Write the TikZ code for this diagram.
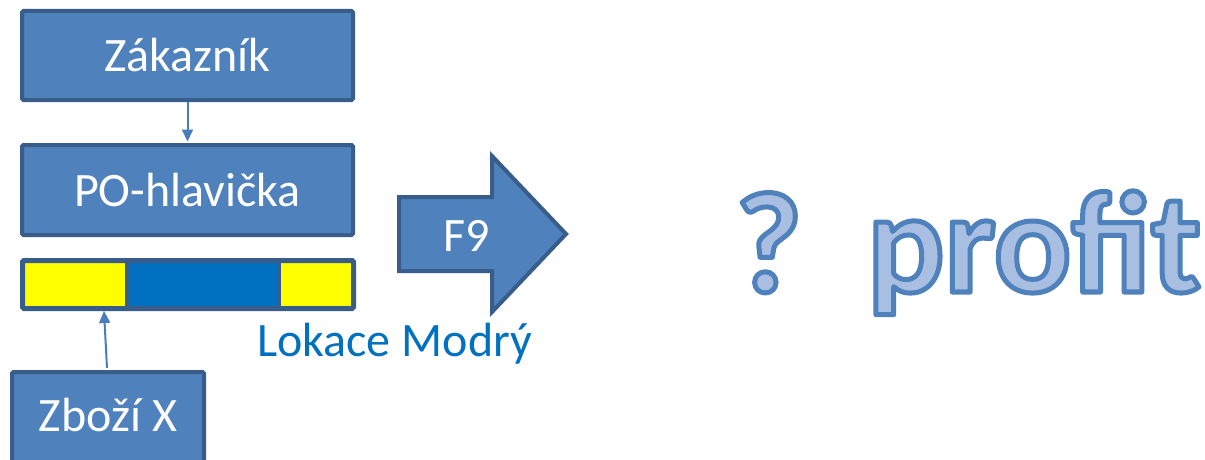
\documentclass[tikz,border=0pt]{standalone}
\usepackage{fontspec}
\setmainfont{Carlito}
\usetikzlibrary{arrows.meta,calc}
\definecolor{boxfill}{HTML}{4F81BD}
\definecolor{boxline}{HTML}{385D8A}
\definecolor{connc}{HTML}{4A7EBB}
\definecolor{lokblue}{HTML}{0070C0}
\definecolor{ylw}{HTML}{FFFF00}
\definecolor{pale}{HTML}{A9BFE2}
\newcommand\outlinedtext[1]{\special{pdf:literal direct 2 Tr 5 w 1 j 0.310 0.506 0.741 RG}#1\special{pdf:literal direct 0 Tr 1 w}}
\begin{document}
\begin{tikzpicture}[x=1pt,y=-1pt,
  box/.style={draw=boxline, fill=boxfill, line width=4pt, rounded corners=1.5pt, text=white, font=\fontsize{48}{54}\selectfont, inner sep=0pt},
  wtext/.style={text=white, font=\fontsize{48}{54}\selectfont, inner sep=0pt},
  connector/.style={draw=connc, line width=2pt, -{Triangle[length=12pt,width=11pt]}},
  big/.style={text=pale, inner sep=0pt, anchor=base west, font=\bfseries\fontsize{144}{150}\selectfont}
  ]
\useasboundingbox (0,0) rectangle (1205,460);
% top boxes
\node[box, minimum width=331pt, minimum height=89pt] (cust) at (187.5,55.5) {Zákazník};
\node[box, minimum width=331pt, minimum height=90pt] (po) at (187.5,190) {PO-hlavička};
% location bar
\fill[ylw] (22,260) rectangle (127,309);
\fill[lokblue] (127,260) rectangle (279,309);
\fill[ylw] (279,260) rectangle (354,309);
\draw[boxline, line width=4pt] (127,260) -- (127,309) (279,260) -- (279,309);
\node[draw=boxline, line width=5pt, minimum width=331pt, minimum height=48pt, rounded corners=1.5pt, inner sep=0pt] (bar) at (188,284.5) {};
\coordinate (barin) at (104,311);
% goods box
\node[box, anchor=north, minimum width=192pt, minimum height=120pt] (zbozi) at (108,370) {};
\node[wtext, anchor=base] (zbozit) at (108,431) {Zboží X};
% connectors
\draw[connector, shorten >=1.5pt] (cust.south) -- (po.north);
\draw[connector] ($(zbozi.north)+(-1,-2)$) -- (barin);
% label
\node[anchor=base west, text=lokblue, font=\fontsize{48}{54}\selectfont, inner sep=0pt] (lok) at (257,356) {Lokace Modrý};
% F9 arrow
\draw[fill=boxfill, draw=boxline, line width=4pt, line join=miter] (399,197) -- (492,197) -- (492,156) -- (566,234) -- (492,312) -- (492,271) -- (399,271) -- cycle;
\node[wtext] (f9) at (467,236) {F9};
% ? profit
\node[big] (q) at (735,292) {\outlinedtext{?}};
\node[big] (profit) at (867,292) {\outlinedtext{profit}};
\end{tikzpicture}
\end{document}
